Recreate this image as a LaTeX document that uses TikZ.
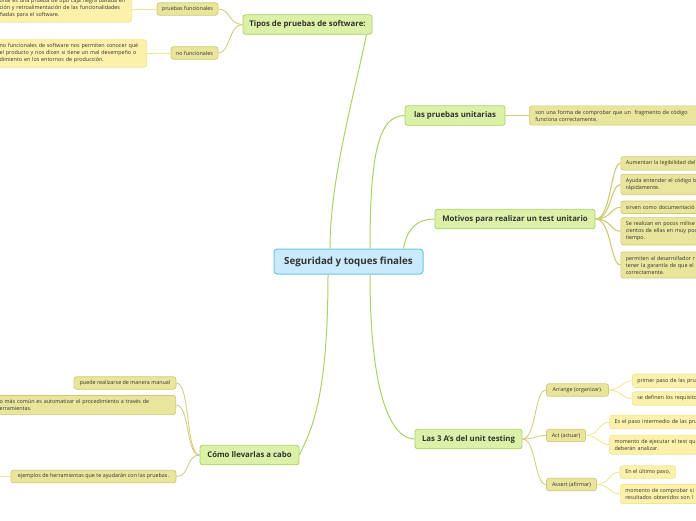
\documentclass[tikz,border=0pt]{standalone}
\usepackage{fontspec}
\setmainfont{Open Sans}
\usetikzlibrary{positioning}
\definecolor{skyfill}{HTML}{C9EAFB}
\definecolor{skyline}{HTML}{6CC5EE}
\definecolor{limefill}{HTML}{DBF1A8}
\definecolor{limeline}{HTML}{A8D267}
\definecolor{olivefill}{HTML}{E9E59C}
\definecolor{oliveline}{HTML}{CFC978}
\definecolor{strawfill}{HTML}{FCF1AA}
\definecolor{strawline}{HTML}{F2E594}
\definecolor{inkgrey}{HTML}{333333}

\begin{document}
\begin{tikzpicture}[x=1pt,y=-1pt,text=inkgrey,
  root/.style={draw=skyline,fill=skyfill,rounded corners=3pt,line width=1pt,minimum height=25pt,font=\fontsize{9.8}{12}\selectfont\bfseries},
  topic/.style={draw=limeline,fill=limefill,rounded corners=2.5pt,line width=0.8pt,minimum height=19.5pt,font=\fontsize{7.8}{9}\selectfont\bfseries},
  sub/.style={draw=oliveline,fill=olivefill,rounded corners=2.5pt,line width=0.7pt,minimum height=12.5pt,inner sep=2pt,font=\fontsize{5.4}{7}\selectfont},
  leaf/.style={draw=strawline,fill=strawfill,rounded corners=2.5pt,line width=0.7pt,minimum height=12.5pt,inner sep=2pt,font=\fontsize{5.4}{7}\selectfont},
  note/.style={align=left,inner xsep=5pt,inner ysep=4pt},
  branch/.style={draw=limeline,line width=1pt},
  twig/.style={draw=oliveline,line width=0.8pt},
  stem/.style={draw=strawline,line width=0.8pt}
]
  \useasboundingbox (0,0) rectangle (696,520);
  \clip (0,0) rectangle (696,520);

  % centre
  \node[root,minimum width=149pt] (root) at (348.5,261.5) {Seguridad y toques finales};

  % main topics
  \node[topic,minimum width=129pt] (tipos) at (307.5,24.5) {Tipos de pruebas de software:};
  \node[topic,minimum width=100pt] (unit) at (455,115.5) {las pruebas unitarias};
  \node[topic,minimum width=160pt] (motivos) at (515,219) {Motivos para realizar un test unitario};
  \node[topic,minimum width=99pt] (como) at (249.5,455) {Cómo llevarlas a cabo};
  \node[topic,minimum width=107pt] (tresa) at (468.5,439) {Las 3 A's del unit testing};

  % tipos de pruebas
  \node[sub,minimum width=61pt] (func) at (187.5,9) {pruebas funcionales};
  \node[sub,minimum width=47pt] (nofunc) at (194.5,53) {no funcionales};
  \node[leaf,note,anchor=east,text width=127pt] (funcnote) at (132,8.5) {onal es una prueba de tipo caja negra basada en\\ción y retroalimentación de las funcionalidades\\ñadas para el software.};
  \node[leaf,note,anchor=east,text width=142pt] (nofuncnote) at (147,53.5) {no funcionales de software nos permiten conocer qué\\el producto y nos dicen si tiene un mal desempeño o\\dimiento en los entornos de producción.};

  % pruebas unitarias
  \node[sub,note,anchor=west,text width=170pt,inner xsep=6pt] (unitnote) at (529,115.5) {son una forma de comprobar que un\ \ fragmento de código\\funciona correctamente.};

  % motivos
  \node[sub,note,anchor=west,text width=90pt] (why1) at (620.5,163.3) {Aumentan la legibilidad del};
  \node[sub,note,anchor=west,text width=90pt] (why2) at (620.5,184.5) {Ayuda entender el código b\\rápidamente.};
  \node[sub,note,anchor=west,text width=90pt] (why3) at (620.5,207.3) {sirven como documentació};
  \node[sub,note,anchor=west,text width=90pt] (why4) at (620.5,231.3) {Se realizan en pocos milise\\cientos de ellas en muy poc\\tiempo.};
  \node[sub,note,anchor=west,text width=90pt] (why5) at (620.5,265) {permiten al desarrollador r\\tener la garantía de que el\\correctamente.};

  % como llevarlas a cabo
  \node[sub,minimum width=102pt] (manual) at (125,383) {puede realizarse de manera manual};
  \node[sub,note,anchor=east,text width=171pt] (auto) at (176,405) {o más común es automatizar el procedimiento a través de\\erramientas.};
  \node[sub,minimum width=165pt] (tools) at (93.5,476.5) {ejemplos de herramientas que te ayudarán con las pruebas.};
  \coordinate (offleft) at (-10,476.5);

  % las 3 A's
  \node[sub,minimum width=62pt] (arrange) at (577.5,390) {Arrange (organizar).};
  \node[sub,minimum width=39pt] (act) at (566,435.5) {Act (actuar)};
  \node[sub,minimum width=50pt] (assert) at (571.5,484.5) {Assert (afirmar)};
  \node[leaf,note,anchor=west,text width=80pt] (arr1) at (632,380.7) {primer paso de las pru};
  \node[leaf,note,anchor=west,text width=80pt] (arr2) at (632,398.5) {se definen los requisito};
  \node[leaf,note,anchor=west,text width=100pt] (act1) at (609.3,422) {Es el paso intermedio de las pru};
  \node[leaf,note,anchor=west,text width=100pt] (act2) at (609.3,444.7) {momento de ejecutar el test qu\\deberán analizar.};
  \node[leaf,minimum width=55.7pt] (ass1) at (647.8,472) {En el último paso,};
  \node[leaf,note,anchor=west,text width=90pt] (ass2) at (620,494) {momento de comprobar si\\resultados obtenidos son l};

  % connectors from the centre
  \draw[branch] ([xshift=-18.5pt]root.north) .. controls +(0,-70) and +(-12,60) .. ([xshift=-6pt]tipos.south east);
  \draw[branch] ([xshift=21.5pt]root.north) .. controls +(0,-95) and +(-26,0) .. (unit.west);
  \draw[branch] ([xshift=55pt]root.north) .. controls +(4,-22) and +(-16,0) .. (motivos.west);
  \draw[branch] ([xshift=-20.5pt]root.south) .. controls +(0,130) and +(10,-22) .. (como.east);
  \draw[branch] ([xshift=21.5pt]root.south) .. controls +(0,125) and +(-22,0) .. (tresa.west);

  % tipos de pruebas
  \draw[twig] (tipos.west) .. controls +(-14,0) and +(12,0) .. (func.east);
  \draw[twig] (tipos.west) .. controls +(-14,0) and +(12,0) .. (nofunc.east);
  \draw[stem] (func.west) -- (func.west -| funcnote.east);
  \draw[stem] (nofunc.west) -- (nofunc.west -| nofuncnote.east);

  % unitarias and motivos
  \draw[twig] (unit.east) -- (unitnote.west);
  \foreach \w in {why1,why2,why3,why4,why5}
    \draw[twig,line width=1.1pt] (motivos.east) .. controls +(16,0) and +(-10,0) .. (\w.west);

  % como llevarlas a cabo
  \foreach \w in {manual,auto,tools}
    \draw[twig] (como.west) .. controls +(-14,0) and +(14,0) .. (\w.east);
  \draw[stem] (tools.west) -- (offleft);

  % las 3 A's
  \foreach \w in {arrange,act,assert}
    \draw[twig] (tresa.east) .. controls +(14,0) and +(-12,0) .. (\w.west);
  \foreach \w in {arr1,arr2}
    \draw[stem] (arrange.east) .. controls +(12,0) and +(-10,0) .. (\w.west);
  \foreach \w in {act1,act2}
    \draw[stem] (act.east) .. controls +(12,0) and +(-10,0) .. (\w.west);
  \foreach \w in {ass1,ass2}
    \draw[stem] (assert.east) .. controls +(12,0) and +(-10,0) .. (\w.west);
\end{tikzpicture}
\end{document}
